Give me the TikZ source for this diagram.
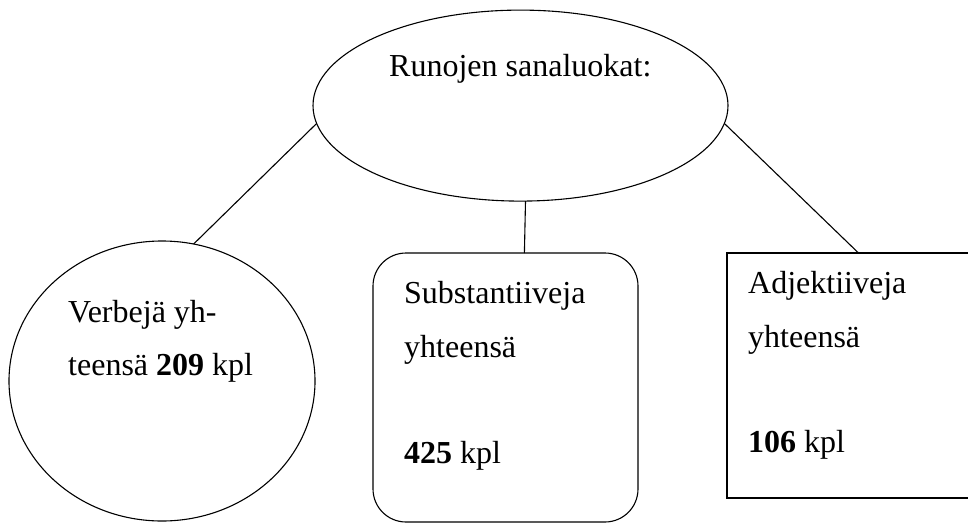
\documentclass[tikz,border=0pt]{standalone}
\usepackage{fontspec}
\setmainfont{Liberation Serif}
\usetikzlibrary{shapes.geometric}
\newcommand{\lblfont}{\fontsize{32}{53}\selectfont}

\begin{document}
\begin{tikzpicture}[x=1pt,y=1pt,
    oval/.style={draw=black,line width=1.1pt,shape=ellipse,inner sep=0pt,outer sep=0pt},
    frame/.style={draw=black,line width=1.1pt,shape=rectangle,inner sep=0pt,outer sep=0pt},
    lbl/.style={anchor=base west,inner sep=0pt,font=\lblfont},
    link/.style={line width=1.1pt,draw=black}]

\useasboundingbox (0,0) rectangle (968,-522);

% ======================= shapes ========================================================
\node[oval,minimum width=415pt,minimum height=191pt] (runo) at (520.5,-105.6) {};
\node[oval,minimum width=306pt,minimum height=280pt] (verb) at (162,-381) {};
\node[frame,rounded corners=33pt,minimum width=265pt,minimum height=269pt] (subst) at (505.5,-387.5) {};
\node[frame,minimum width=263pt,minimum height=245pt] (adj) at (858.5,-375.5) {};

% ======================= texts =========================================================
\node[lbl] (runoT) at (389,-76) {Runojen sanaluokat:};
\node[lbl] (verbA) at (68,-322) {Verbejä yh-};
\node[lbl] (verbB) at (68,-375) {teensä \textbf{209} kpl};
\node[lbl] (substA) at (404,-303) {Substantiiveja};
\node[lbl] (substB) at (404,-357) {yhteensä};
\node[lbl] (substC) at (404,-463) {\textbf{425} kpl};
\node[lbl] (adjA) at (748,-293) {Adjektiiveja};
\node[lbl] (adjB) at (748,-347) {yhteensä};
\node[lbl] (adjC) at (748,-452) {\textbf{106} kpl};

% ======================= connectors ====================================================
\draw[link] (runo.185) -- (verb.77);
\draw[link] (runo.273) -- (subst.82);
\draw[link] (runo.355) -- (adj.north);

\end{tikzpicture}
\end{document}
